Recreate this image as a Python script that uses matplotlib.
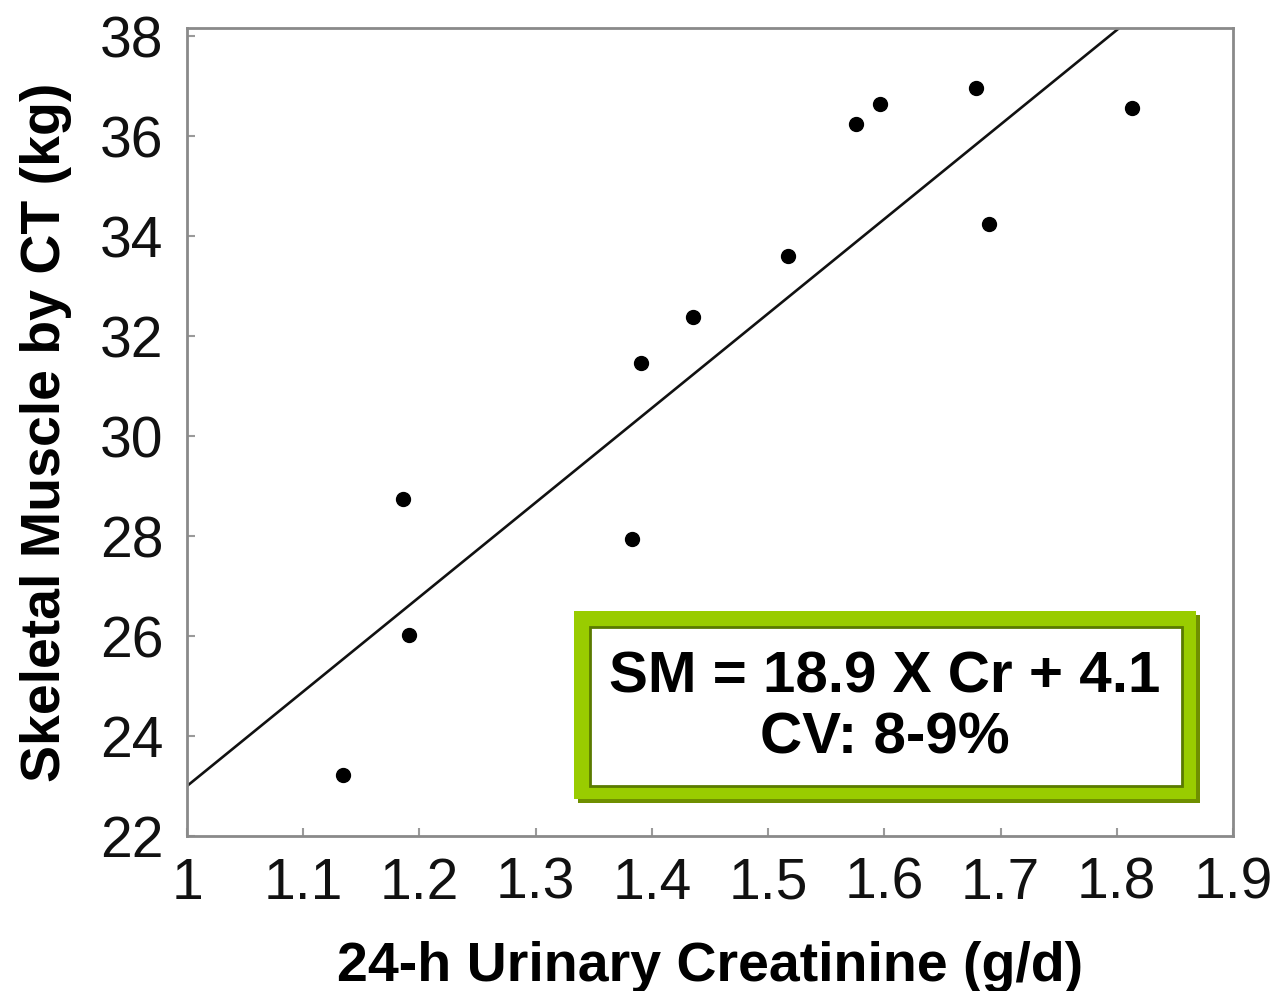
import numpy as np
import matplotlib.pyplot as plt
from matplotlib.patches import Rectangle

# DATA -------------------

creatinine = [1.134, 1.186, 1.191, 1.383, 1.391, 1.435, 1.517, 1.576, 1.596, 1.679, 1.690, 1.813]
muscle = [23.22, 28.74, 26.02, 27.94, 31.46, 32.38, 33.60, 36.24, 36.64, 36.96, 34.24, 36.56]

slope = 18.9
intercept = 4.1

x_ticks = [1, 1.1, 1.2, 1.3, 1.4, 1.5, 1.6, 1.7, 1.8, 1.9]
x_tick_labels = ["1", "1.1", "1.2", "1.3", "1.4", "1.5", "1.6", "1.7", "1.8", "1.9"]
y_ticks = [22, 24, 26, 28, 30, 32, 34, 36, 38]

eq_text = "SM = 18.9 X Cr + 4.1\nCV: 8-9%"

# PLOTTING -------------

plt.rcParams['font.family'] = ['Liberation Sans', 'DejaVu Sans']

fig = plt.figure(figsize=(12.81, 9.91), dpi=100)
ax = fig.add_axes([0.146, 0.1564, 0.8165, 0.8153])

ax.plot(creatinine, muscle, 'o', color='black', markersize=10, zorder=3)

fit_x = np.array([1.0, 1.9])
ax.plot(fit_x, slope * fit_x + intercept, color='#111111', linewidth=1.9, zorder=2)

ax.set_xlim(1, 1.9)
ax.set_ylim(22, 38.16)
ax.set_xticks(x_ticks)
ax.set_xticklabels(x_tick_labels)
ax.set_yticks(y_ticks)

for side in ax.spines.values():
    side.set_color('#8a8a8a')
    side.set_linewidth(2)

ax.tick_params(axis='both', direction='in', length=6, width=1.5, color='#9a9a9a',
               labelsize=41, labelcolor='#111111')
ax.tick_params(axis='x', pad=15)
ax.tick_params(axis='y', pad=17)

ax.set_xlabel("24-h Urinary Creatinine (g/d)", fontsize=40, fontweight='bold', labelpad=22)
ax.set_ylabel("Skeletal Muscle by CT (kg)", fontsize=40, fontweight='bold', labelpad=20)

# equation box: shadow, green frame, white inner panel
W, H = 1281, 991
def frac(x0, y0, x1, y1):
    return (x0 / W, (H - y1) / H), (x1 - x0) / W, (y1 - y0) / H

xy, w, h = frac(578, 615, 1200, 803)
fig.add_artist(Rectangle(xy, w, h, transform=fig.transFigure, facecolor='#6f8f00',
                         edgecolor='none', zorder=5))
xy, w, h = frac(574, 611, 1196, 799)
fig.add_artist(Rectangle(xy, w, h, transform=fig.transFigure, facecolor='#99cc00',
                         edgecolor='none', zorder=6))
xy, w, h = frac(590, 627, 1182, 786)
fig.add_artist(Rectangle(xy, w, h, transform=fig.transFigure, facecolor='white',
                         edgecolor='#5a7a00', linewidth=2, zorder=7))

fig.text(885 / W, 1 - 708 / H, eq_text, ha='center', va='center', fontsize=42,
         fontweight='bold', linespacing=1.15, zorder=8)

plt.savefig('out.png', dpi=100)
